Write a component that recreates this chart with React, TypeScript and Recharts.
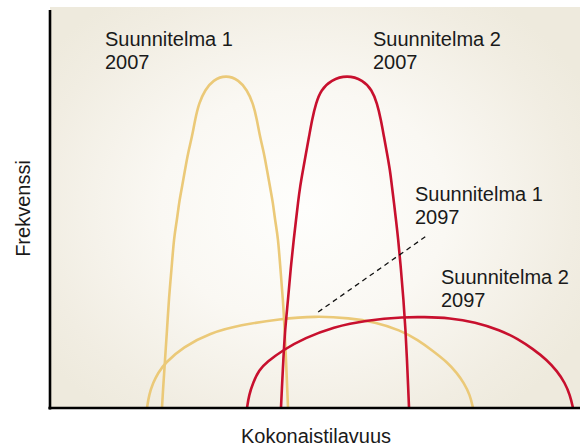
import React from "react";
import { LineChart, Line, XAxis, YAxis, ReferenceLine } from "recharts";

// Curves (x: kokonaistilavuus 0–100, y: frekvenssi 0–100)
const plan1_2007 = [
  { x: 21.13, y: 0 }, { x: 21.32, y: 4.5 }, { x: 21.7, y: 12 }, { x: 22.08, y: 19.5 },
  { x: 22.45, y: 27.75 }, { x: 22.92, y: 34.5 }, { x: 23.4, y: 42.75 }, { x: 23.96, y: 47 },
  { x: 24.34, y: 51.25 }, { x: 24.91, y: 55.25 }, { x: 25.47, y: 59.5 }, { x: 26.04, y: 63.75 },
  { x: 26.79, y: 67.75 }, { x: 27.36, y: 72 }, { x: 28.11, y: 76.25 }, { x: 29.25, y: 79.5 },
  { x: 30.75, y: 82 }, { x: 33.21, y: 83.25 }, { x: 35.66, y: 82 }, { x: 37.17, y: 79.5 },
  { x: 38.3, y: 76.25 }, { x: 39.06, y: 72 }, { x: 39.62, y: 67.75 }, { x: 40.38, y: 63.75 },
  { x: 40.94, y: 59.5 }, { x: 41.51, y: 55.25 }, { x: 42.08, y: 51.25 }, { x: 42.45, y: 47 },
  { x: 43.02, y: 42.75 }, { x: 43.49, y: 34.5 }, { x: 43.96, y: 27 }, { x: 44.28, y: 19.5 },
  { x: 44.53, y: 12 }, { x: 44.77, y: 4.5 }, { x: 44.91, y: 0 },
];
const plan2_2007 = [
  { x: 43.58, y: 0 }, { x: 43.74, y: 4.5 }, { x: 44.02, y: 12 }, { x: 44.34, y: 19.5 },
  { x: 44.91, y: 27 }, { x: 45.38, y: 34.5 }, { x: 46.04, y: 42.75 }, { x: 46.42, y: 47 },
  { x: 46.79, y: 51.25 }, { x: 47.17, y: 55.25 }, { x: 47.74, y: 59.5 }, { x: 48.3, y: 63.75 },
  { x: 48.87, y: 67.75 }, { x: 49.43, y: 72 }, { x: 50.19, y: 76.25 }, { x: 51.13, y: 79.5 },
  { x: 53.02, y: 82 }, { x: 56.04, y: 83.25 }, { x: 59.06, y: 82 }, { x: 60.75, y: 79.5 },
  { x: 61.7, y: 76.25 }, { x: 62.45, y: 72 }, { x: 63.02, y: 67.75 }, { x: 63.58, y: 63.75 },
  { x: 64.15, y: 59.5 }, { x: 64.53, y: 55.25 }, { x: 64.91, y: 51.25 }, { x: 65.28, y: 47 },
  { x: 65.66, y: 42.75 }, { x: 66.23, y: 34.5 }, { x: 66.7, y: 27 }, { x: 67.08, y: 19.5 },
  { x: 67.36, y: 12 }, { x: 67.6, y: 4.5 }, { x: 67.74, y: 0 },
];
const plan1_2097 = [
  { x: 18.3, y: 0 }, { x: 18.68, y: 3.25 }, { x: 19.43, y: 6.25 }, { x: 20.38, y: 8.75 },
  { x: 21.7, y: 11.25 }, { x: 25.09, y: 15.25 }, { x: 30.19, y: 18.75 }, { x: 35.85, y: 20.75 },
  { x: 43.4, y: 22.25 }, { x: 50.0, y: 23 }, { x: 56.6, y: 22.5 }, { x: 61.32, y: 21.5 },
  { x: 66.04, y: 19.5 }, { x: 69.43, y: 17 }, { x: 72.26, y: 14.25 }, { x: 74.91, y: 11.5 },
  { x: 76.79, y: 8.75 }, { x: 78.11, y: 6.25 }, { x: 79.25, y: 3.25 }, { x: 79.81, y: 0 },
];
const plan2_2097 = [
  { x: 37.17, y: 0 }, { x: 37.55, y: 3.25 }, { x: 38.3, y: 6.25 }, { x: 39.43, y: 9.5 },
  { x: 40.94, y: 11.5 }, { x: 43.96, y: 14.5 }, { x: 48.11, y: 17.5 }, { x: 53.4, y: 20.25 },
  { x: 59.81, y: 22 }, { x: 66.98, y: 22.75 }, { x: 70.38, y: 22.75 }, { x: 75.47, y: 22.5 },
  { x: 80.19, y: 21.5 }, { x: 84.91, y: 19.5 }, { x: 88.3, y: 17.25 }, { x: 91.13, y: 14.75 },
  { x: 93.77, y: 12 }, { x: 95.66, y: 9.25 }, { x: 97.17, y: 6.25 }, { x: 98.11, y: 3.25 },
  { x: 98.68, y: 0 },
];
const leader = [{ x: 50.6, y: 24 }, { x: 70.8, y: 42.8 }];

const labels = [
  { lines: ["Suunnitelma 1", "2007"], left: 105, top: 28 },
  { lines: ["Suunnitelma 2", "2007"], left: 373, top: 28 },
  { lines: ["Suunnitelma 1", "2097"], left: 415, top: 183 },
  { lines: ["Suunnitelma 2", "2097"], left: 441, top: 266 },
];
const xTitle = "Kokonaistilavuus";
const yTitle = "Frekvenssi";

const YELLOW = "#ebc978";
const RED = "#c8102e";
const FONT = "'Liberation Sans', Arial, sans-serif";

export default function App() {
  const textStyle: React.CSSProperties = {
    position: "absolute",
    fontFamily: FONT,
    fontSize: 20,
    lineHeight: "23px",
    color: "#1a1a1a",
    whiteSpace: "nowrap",
  };
  return (
    <div style={{ position: "absolute", left: 0, top: 0, width: 580, height: 448, background: "#fff", overflow: "hidden" }}>
      <div
        style={{
          position: "absolute",
          left: 50,
          top: 7,
          width: 530,
          height: 401,
          background: "radial-gradient(ellipse 60% 65% at 48% 50%, #fefefc 0%, #faf8f3 45%, #f1ede2 85%, #eeeadd 100%)",
        }}
      />
      <div style={{ position: "absolute", left: 0, top: 0 }}>
        <LineChart width={580} height={448} margin={{ top: 8, right: 0, bottom: 40, left: 50 }}>
          <XAxis type="number" dataKey="x" domain={[0, 100]} hide allowDataOverflow />
          <YAxis type="number" dataKey="y" domain={[0, 100]} hide allowDataOverflow />
          <Line data={plan1_2097} dataKey="y" type="basis" stroke={YELLOW} strokeWidth={2.6} dot={false} isAnimationActive={false} />
          <Line data={plan1_2007} dataKey="y" type="basis" stroke={YELLOW} strokeWidth={2.6} dot={false} isAnimationActive={false} />
          <Line data={plan2_2097} dataKey="y" type="basis" stroke={RED} strokeWidth={2.6} dot={false} isAnimationActive={false} />
          <Line data={plan2_2007} dataKey="y" type="basis" stroke={RED} strokeWidth={2.6} dot={false} isAnimationActive={false} />
          <ReferenceLine segment={leader} stroke="#111" strokeWidth={1.3} strokeDasharray="5 4" ifOverflow="visible" />
          <ReferenceLine segment={[{ x: 0, y: -0.4 }, { x: 0, y: 99.5 }]} stroke="#000" strokeWidth={2.6} ifOverflow="visible" />
          <ReferenceLine segment={[{ x: -0.3, y: 0 }, { x: 100, y: 0 }]} stroke="#000" strokeWidth={2.6} ifOverflow="visible" />
        </LineChart>
      </div>
      {labels.map((l, i) => (
        <div key={i} style={{ ...textStyle, left: l.left, top: l.top }}>
          {l.lines.map((t, j) => (
            <div key={j}>{t}</div>
          ))}
        </div>
      ))}
      <div style={{ ...textStyle, left: 241, top: 424.6 }}>{xTitle}</div>
      <div
        style={{
          ...textStyle,
          left: -76.9,
          top: 196.5,
          width: 200,
          height: 23,
          textAlign: "center",
          transform: "rotate(-90deg)",
        }}
      >
        {yTitle}
      </div>
    </div>
  );
}
